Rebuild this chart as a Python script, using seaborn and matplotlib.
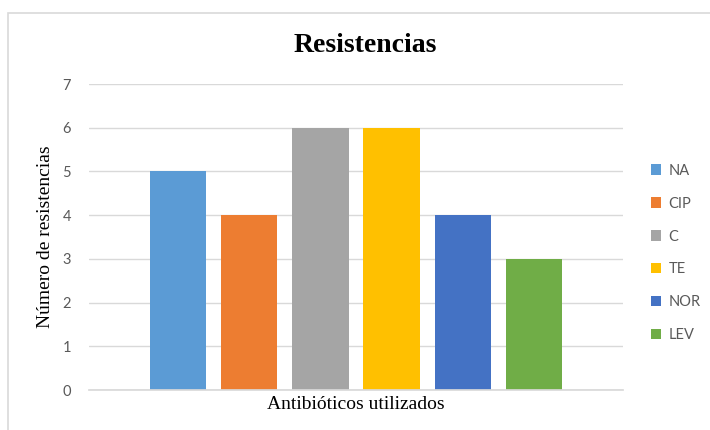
import matplotlib
matplotlib.use("Agg")
import matplotlib.pyplot as plt
import seaborn as sns
import pandas as pd
from matplotlib.patches import Rectangle, Patch

antibioticos = ["NA", "CIP", "C", "TE", "NOR", "LEV"]
resistencias = [5, 4, 6, 6, 4, 3]
colores = ["#5B9BD5", "#ED7D31", "#A5A5A5", "#FFC000", "#4472C4", "#70AD47"]
yticks = [0, 1, 2, 3, 4, 5, 6, 7]

df = pd.DataFrame({"grupo": [""] * len(antibioticos),
                   "antibiotico": antibioticos,
                   "valor": resistencias})

sns.set_theme(style="white")
plt.rcParams["font.family"] = ["Lato", "DejaVu Sans"]

fig = plt.figure(figsize=(7.1, 4.3), dpi=100)
ax = fig.add_axes([89/710, 1-390/430, (623-89)/710, (390-84)/430])

sns.barplot(data=df, x="grupo", y="valor", hue="antibiotico",
            palette=colores, saturation=1, gap=0.21, width=0.8, ax=ax,
            legend=False, linewidth=0, edgecolor="none")

ax.set_ylim(0, 7)
ax.set_yticks(yticks)
ax.set_yticklabels([str(t) for t in yticks], color="#595959", fontsize=10.5)
ax.set_xticks([])
ax.yaxis.grid(True, color="#D9D9D9", linewidth=1)
ax.set_axisbelow(True)
for s in ["top", "right", "left"]:
    ax.spines[s].set_visible(False)
ax.spines["bottom"].set_color("#D9D9D9")
ax.tick_params(axis="y", length=0, pad=13)

ax.set_ylabel("Número de resistencias", family="Liberation Serif", fontsize=14,
              color="black", labelpad=6)
ax.set_xlabel("Antibióticos utilizados", family="Liberation Serif", fontsize=14,
              color="black", labelpad=4)

fig.text(365/710, 1-46/430, "Resistencias", family="Liberation Serif",
         fontweight="bold", fontsize=20, ha="center", va="center", color="black")

handles = [Patch(facecolor=c, edgecolor="none") for c in colores]
fig.legend(handles, antibioticos, loc="center left",
           bbox_to_anchor=(638/710, 1-253/430), frameon=False,
           handlelength=0.7, handleheight=0.7, handletextpad=0.5,
           labelspacing=1.3, fontsize=10.5, labelcolor="#595959")

fig.patches.append(Rectangle((8/710, -0.1), 1.2, 1.1 - 13/430,
                             transform=fig.transFigure, fill=False,
                             edgecolor="#D9D9D9", linewidth=1.2))

fig.savefig("out.png", dpi=100, facecolor="white")
